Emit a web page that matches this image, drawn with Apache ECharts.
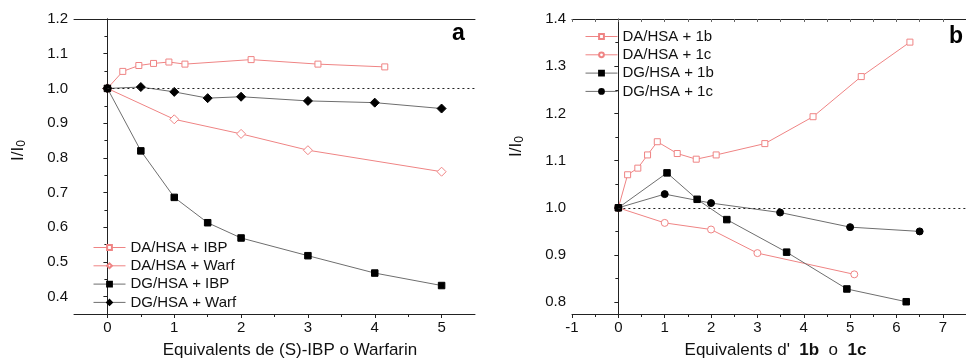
<!DOCTYPE html>
<html>
<head>
  <meta charset="utf-8">
  <title>I/I0</title>
  <script src="https://cdn.jsdelivr.net/npm/echarts@6/dist/echarts.min.js"></script>
</head>
<body style="margin:0">
  <div id="main" style="width:966px;height:364px"></div>
  <script type="text/javascript">
    // panel a
    var xDaIbp = [0, 0.23, 0.47, 0.69, 0.92, 1.16, 2.15, 3.15, 4.15];
    var yDaIbp = [1.0, 1.049, 1.066, 1.072, 1.076, 1.070, 1.083, 1.070, 1.062];
    var xDaWarf = [0, 1, 2, 3, 5];
    var yDaWarf = [1.0, 0.911, 0.869, 0.822, 0.760];
    var xDgIbp = [0, 0.5, 1, 1.5, 2, 3, 4, 5];
    var yDgIbp = [1.0, 0.820, 0.686, 0.613, 0.569, 0.518, 0.468, 0.432];
    var xDgWarf = [0, 0.5, 1, 1.5, 2, 3, 4, 5];
    var yDgWarf = [1.0, 1.004, 0.990, 0.972, 0.976, 0.964, 0.959, 0.942];

    // panel b
    var xDa1b = [0, 0.2, 0.42, 0.63, 0.84, 1.27, 1.68, 2.11, 3.16, 4.2, 5.24, 6.29];
    var yDa1b = [1.0, 1.070, 1.084, 1.112, 1.140, 1.115, 1.103, 1.112, 1.136, 1.193, 1.278, 1.351];
    var xDa1c = [0, 1, 2, 3, 5.09];
    var yDa1c = [1.0, 0.968, 0.954, 0.904, 0.859];
    var xDg1b = [0, 1.05, 1.70, 2.34, 3.63, 4.93, 6.21];
    var yDg1b = [1.0, 1.074, 1.018, 0.975, 0.906, 0.828, 0.801];
    var xDg1c = [0, 1, 2, 3.49, 5.0, 6.5];
    var yDg1c = [1.0, 1.029, 1.010, 0.990, 0.959, 0.950];

    // ticks
    var xTicksA = [0, 1, 2, 3, 4, 5];
    var xMinorA = [0.5, 1.5, 2.5, 3.5, 4.5];
    var yTicksA = [0.4, 0.5, 0.6, 0.7, 0.8, 0.9, 1.0, 1.1, 1.2];
    var yMinorA = [0.45, 0.55, 0.65, 0.75, 0.85, 0.95, 1.05, 1.15];
    var xTicksB = [-1, 0, 1, 2, 3, 4, 5, 6, 7];
    var xMinorB = [-0.5, 0.5, 1.5, 2.5, 3.5, 4.5, 5.5, 6.5];
    var yTicksB = [0.8, 0.9, 1.0, 1.1, 1.2, 1.3, 1.4];
    var yMinorB = [0.85, 0.95, 1.05, 1.15, 1.25, 1.35];
    var refLevel = 1.0;

    var PINK = '#ef8484';
    var GREY = '#6e6e6e';
    var FONT = 'Liberation Sans';

    function zip(xs, ys) {
      var res = [];
      for (var i = 0; i < xs.length; i++) res.push([xs[i], ys[i]]);
      return res;
    }
    function fmt(v) {
      return Number.isInteger(v) ? String(v) : v.toFixed(1);
    }

    var lineCol = '#222';
    function mainX(grid, min, max, ticks, name, pad) {
      return {
        type: 'value', gridIndex: grid, min: min, max: max, position: 'bottom',
        axisLine: { show: true, lineStyle: { color: lineCol, width: 1 } },
        axisTick: { show: true, length: 4, customValues: ticks, lineStyle: { color: lineCol } },
        axisLabel: { customValues: ticks, formatter: fmt, color: '#111', fontSize: 15, fontFamily: FONT, margin: 6 },
        splitLine: { show: false },
        name: name, nameLocation: 'middle', nameGap: 28,
        nameTextStyle: { color: '#111', fontSize: 17, fontFamily: FONT, padding: [0, 0, 0, pad],
          rich: { b: { fontWeight: 'bold', fontSize: 17, fontFamily: FONT, color: '#111' } } }
      };
    }
    function minorX(grid, min, max, ticks) {
      return {
        type: 'value', gridIndex: grid, min: min, max: max, position: 'bottom',
        axisLine: { show: false },
        axisTick: { show: true, length: 3, customValues: ticks, lineStyle: { color: lineCol } },
        axisLabel: { show: false }, splitLine: { show: false }
      };
    }
    function topX(grid, min, max, ticks) {
      return {
        type: 'value', gridIndex: grid, min: min, max: max, position: 'top',
        axisLine: { show: true, lineStyle: { color: lineCol, width: 1 } },
        axisTick: { show: !!ticks, inside: true, length: 3, customValues: ticks || [], lineStyle: { color: '#666' } },
        axisLabel: { show: false }, splitLine: { show: false }
      };
    }
    function mainY(grid, min, max, ticks, pad) {
      return {
        type: 'value', gridIndex: grid, min: min, max: max, position: 'left',
        axisLine: { show: true, lineStyle: { color: lineCol, width: 1 } },
        axisTick: { show: true, length: 4, customValues: ticks, lineStyle: { color: lineCol } },
        axisLabel: { customValues: ticks, formatter: function (v) { return v.toFixed(1); }, color: '#111', fontSize: 15, fontFamily: FONT, margin: 6 },
        splitLine: { show: false },
        name: '{a|I/I}{s|0}', nameLocation: 'middle', nameGap: 46, nameRotate: 90,
        nameTextStyle: { padding: [0, 0, 0, pad],
          rich: {
            a: { fontSize: 17, fontFamily: FONT, color: '#111' },
            s: { fontSize: 12, fontFamily: FONT, color: '#111', verticalAlign: 'bottom', padding: [8, 0, 0, 0] }
          } }
      };
    }
    function minorY(grid, min, max, ticks) {
      return {
        type: 'value', gridIndex: grid, min: min, max: max, position: 'left',
        axisLine: { show: false },
        axisTick: { show: true, length: 3, customValues: ticks, lineStyle: { color: lineCol } },
        axisLabel: { show: false }, splitLine: { show: false }
      };
    }
    function rightY(grid, min, max) {
      return {
        type: 'value', gridIndex: grid, min: min, max: max, position: 'right',
        axisLine: { show: true, lineStyle: { color: lineCol, width: 1 } },
        axisTick: { show: false }, axisLabel: { show: false }, splitLine: { show: false }
      };
    }

    function series(name, xi, yi, xs, ys, color, lineColor, symbol, size, filled) {
      return {
        name: name, type: 'line', xAxisIndex: xi, yAxisIndex: yi,
        data: zip(xs, ys), symbol: symbol, symbolSize: size, showSymbol: true,
        lineStyle: { color: lineColor, width: 1 },
        itemStyle: { color: filled ? color : '#fff', borderColor: color, borderWidth: 1 },
        emphasis: { disabled: true }, animation: false
      };
    }
    function refLine(xi, yi, xmax) {
      return {
        type: 'line', xAxisIndex: xi, yAxisIndex: yi, data: [], silent: true,
        markLine: {
          silent: true, symbol: 'none', label: { show: false }, animation: false,
          lineStyle: { color: '#222', type: [2, 3], width: 1 },
          data: [[{ coord: [0, refLevel] }, { coord: [xmax, refLevel] }]]
        }
      };
    }
    function legend(left, top, names) {
      return {
        orient: 'vertical', left: left, top: top, padding: 0,
        itemWidth: 32, itemHeight: 6, itemGap: 3.3,
        lineStyle: { width: 1 },
        textStyle: { fontSize: 15, fontFamily: FONT, color: '#111', lineHeight: 15 },
        data: names
      };
    }

    var myChart = echarts.init(document.getElementById('main'));
    var option = {
      animation: false,
      title: [
        { text: 'a', left: 447, top: 17, textStyle: { fontSize: 23, fontWeight: 'bold', fontFamily: FONT, color: '#000' } },
        { text: 'b', left: 944, top: 20, textStyle: { fontSize: 23, fontWeight: 'bold', fontFamily: FONT, color: '#000' } }
      ],
      grid: [
        { left: 74, top: 19, right: 491, bottom: 48 },
        { left: 572, top: 19, right: -7, bottom: 49 }
      ],
      legend: [
        legend(93, 240, ['DA/HSA + IBP', 'DA/HSA + Warf', 'DG/HSA + IBP', 'DG/HSA + Warf']),
        legend(585, 29, ['DA/HSA + 1b', 'DA/HSA + 1c', 'DG/HSA + 1b', 'DG/HSA + 1c'])
      ],
      xAxis: [
        mainX(0, -0.5, 5.5, xTicksA, 'Equivalents de (S)-IBP o Warfarin', 31),
        minorX(0, -0.5, 5.5, xMinorA),
        topX(0, -0.5, 5.5, null),
        mainX(1, -1, 7.5, xTicksB, "Equivalents d'  {b|1b}  o  {b|1c}", 13),
        minorX(1, -1, 7.5, xMinorB),
        topX(1, -1, 7.5, xMinorB.concat(xTicksB))
      ],
      yAxis: [
        mainY(0, 0.35, 1.2, yTicksA, 32),
        minorY(0, 0.35, 1.2, yMinorA),
        rightY(0, 0.35, 1.2),
        mainY(1, 0.775, 1.4, yTicksB, 40),
        minorY(1, 0.775, 1.4, yMinorB)
      ],
      series: [
        refLine(0, 0, 5.5),
        series('DA/HSA + IBP', 0, 0, xDaIbp, yDaIbp, PINK, PINK, 'rect', 6, false),
        series('DA/HSA + Warf', 0, 0, xDaWarf, yDaWarf, PINK, PINK, 'diamond', 9, false),
        series('DG/HSA + IBP', 0, 0, xDgIbp, yDgIbp, '#000', GREY, 'rect', 6.5, true),
        series('DG/HSA + Warf', 0, 0, xDgWarf, yDgWarf, '#000', GREY, 'diamond', 9, true),
        refLine(3, 3, 7.5),
        series('DA/HSA + 1b', 3, 3, xDa1b, yDa1b, PINK, PINK, 'rect', 6, false),
        series('DA/HSA + 1c', 3, 3, xDa1c, yDa1c, PINK, PINK, 'circle', 7, false),
        series('DG/HSA + 1b', 3, 3, xDg1b, yDg1b, '#000', GREY, 'rect', 6.5, true),
        series('DG/HSA + 1c', 3, 3, xDg1c, yDg1c, '#000', GREY, 'circle', 7, true)
      ]
    };
    myChart.setOption(option);
  </script>
</body>
</html>
